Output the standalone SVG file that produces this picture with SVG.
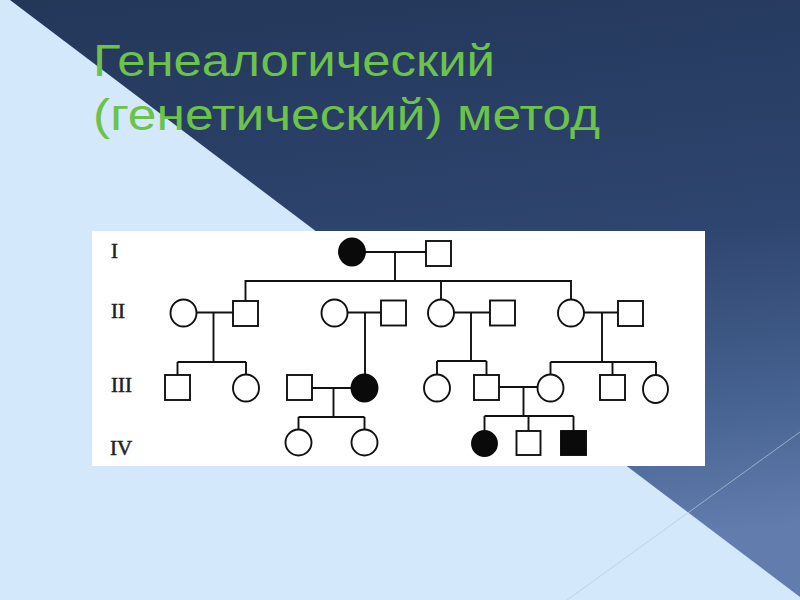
<svg xmlns="http://www.w3.org/2000/svg" width="800" height="600" viewBox="0 0 800 600">
<defs>
<linearGradient id="dark" x1="0" y1="0" x2="0.15" y2="1">
<stop offset="0" stop-color="#233759"/>
<stop offset="0.5" stop-color="#2e456f"/>
<stop offset="0.78" stop-color="#45618f"/>
<stop offset="1" stop-color="#627dad"/>
</linearGradient>
<style>
.ln{stroke:#111;stroke-width:1.9;fill:none}
.o{fill:#fff;stroke:#111;stroke-width:1.9}
.f{fill:#0a0a0a;stroke:#0a0a0a;stroke-width:1.9}
.gen{font-family:"Liberation Serif","Times New Roman",serif;font-size:21px;fill:#222;stroke:#222;stroke-width:0.5}
.title{font-family:"Liberation Sans","Open Sans",Arial,sans-serif;font-size:44px;fill:#6cc24a}
</style>
</defs>
<rect x="0" y="0" width="800" height="600" fill="url(#dark)"/>
<polygon points="0,0 10,0 800,597 800,600 0,600" fill="#d4e8fc"/>
<line x1="800" y1="432" x2="567" y2="600" stroke="#b9c8da" stroke-width="1" opacity="0.7"/>
<text class="title" x="93" y="76" textLength="402" lengthAdjust="spacingAndGlyphs">Генеалогический</text>
<text class="title" x="93" y="130" textLength="507" lengthAdjust="spacingAndGlyphs">(генетический) метод</text>
<rect x="92" y="231" width="613" height="235" fill="#ffffff"/>
<g id="labels">
<text class="gen" x="111" y="258">I</text>
<text class="gen" x="111" y="318">II</text>
<text class="gen" x="111" y="392">III</text>
<text class="gen" x="110" y="455">IV</text>
</g>
<g id="connectors">
<path class="ln" d="M365,252H426M395,252V281M244.5,281H572M245.5,281V301M441,281V300M571,281V300"/>
<path class="ln" d="M196.5,312.5H233M213.5,312.5V362M177.5,362H246M177.5,362V375M246,362V375"/>
<path class="ln" d="M347.5,312.5H381M365,312.5V375"/>
<path class="ln" d="M454,312.5H490M471,312.5V361M437,361H486.5M437,361V375M486.5,361V375"/>
<path class="ln" d="M584,312.5H618M602,312.5V362M550.5,362H656M550.5,362V375M612.5,362V375M656,362V375"/>
<path class="ln" d="M312,388H351.5M333.5,388V417M298.5,417H364.5M298.5,417V429.5M364.5,417V429.5"/>
<path class="ln" d="M499,387H537.5M523.5,387V416M484.5,416H573.5M484.5,416V431M528.5,416V431M573.5,416V431"/>
</g>
<g id="I1"><ellipse class="f" cx="352" cy="252" rx="13" ry="13.5"/></g>
<g id="I2"><rect class="o" x="426" y="241" width="25" height="25"/></g>
<g id="II1"><ellipse class="o" cx="183.5" cy="313" rx="13" ry="13.5"/></g>
<g id="II2"><rect class="o" x="233" y="301" width="25" height="25"/></g>
<g id="II3"><ellipse class="o" cx="334.5" cy="313" rx="13" ry="13.5"/></g>
<g id="II4"><rect class="o" x="381" y="300.5" width="25" height="25"/></g>
<g id="II5"><ellipse class="o" cx="441" cy="313" rx="13" ry="13.5"/></g>
<g id="II6"><rect class="o" x="490" y="300.5" width="25" height="25"/></g>
<g id="II7"><ellipse class="o" cx="571" cy="313" rx="13" ry="13.5"/></g>
<g id="II8"><rect class="o" x="618" y="301" width="25" height="25"/></g>
<g id="III1"><rect class="o" x="165" y="375" width="25" height="25"/></g>
<g id="III2"><ellipse class="o" cx="246" cy="388" rx="13" ry="13.5"/></g>
<g id="III3"><rect class="o" x="287" y="375" width="25" height="25"/></g>
<g id="III4"><ellipse class="f" cx="364.5" cy="388" rx="13" ry="13.5"/></g>
<g id="III5"><ellipse class="o" cx="437" cy="388" rx="13" ry="13.5"/></g>
<g id="III6"><rect class="o" x="474" y="375" width="25" height="25"/></g>
<g id="III7"><ellipse class="o" cx="550.5" cy="388" rx="13" ry="13.5"/></g>
<g id="III8"><rect class="o" x="600" y="375" width="25" height="25"/></g>
<g id="III9"><ellipse class="o" cx="655.5" cy="389" rx="12.5" ry="14"/></g>
<g id="IV1"><ellipse class="o" cx="298.5" cy="442.5" rx="13" ry="13"/></g>
<g id="IV2"><ellipse class="o" cx="364.5" cy="442.5" rx="13" ry="13"/></g>
<g id="IV3"><ellipse class="f" cx="484.5" cy="443.5" rx="12.5" ry="12.5"/></g>
<g id="IV4"><rect class="o" x="516.5" y="431" width="24" height="24"/></g>
<g id="IV5"><rect class="f" x="561" y="431" width="25" height="24"/></g>
</svg>
